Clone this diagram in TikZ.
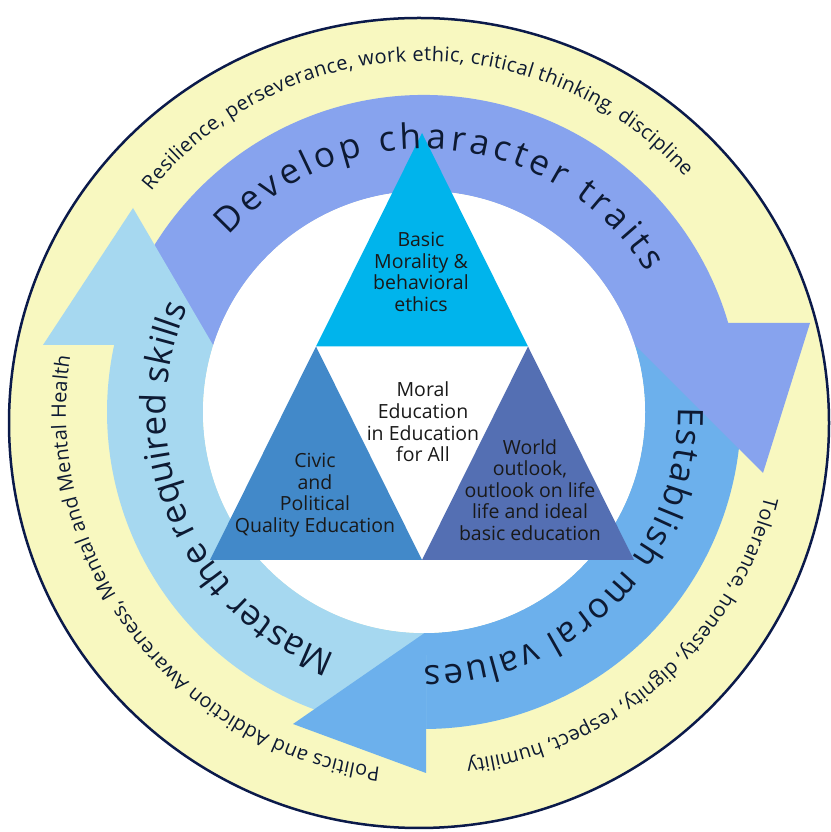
\documentclass[tikz,border=0pt]{standalone}
\usepackage{fontspec}
\setmainfont{Open Sans}
\usetikzlibrary{decorations.text}
\definecolor{ybg}{HTML}{F8F8C0}
\definecolor{navy}{HTML}{0B1A4A}
\definecolor{peri}{HTML}{87A3EE}
\definecolor{midb}{HTML}{6CB0EC}
\definecolor{lblue}{HTML}{A6D8F0}
\definecolor{tcyan}{HTML}{00B4EC}
\definecolor{tsteel}{HTML}{4289C9}
\definecolor{tslate}{HTML}{546FB3}
\definecolor{txt}{HTML}{0D1A33}
\newcommand\ringfont{\fontsize{35}{40}\selectfont}
\newcommand\outfont{\fontsize{20}{24}\selectfont}
\tikzset{
  tritext/.style={align=center, text=black!90, font=\fontsize{19.5}{21.6}\selectfont, inner sep=0pt},
  ringtext/.style={decorate, decoration={text along path, text={|\ringfont|#1}, text color=txt, text align={fit to path}}},
  outtext/.style={decorate, decoration={text along path, text={|\outfont|#1}, text color=txt, text align={fit to path}}}
}
\begin{document}
\begin{tikzpicture}[x=1pt,y=1pt]
\useasboundingbox (0,0) rectangle (830,832);
% outer disc
\draw[navy, line width=2.5pt, fill=ybg] (419,409) ellipse [x radius=410, y radius=405];
\begin{scope}[shift={(424,420)}]
  % arrow bodies
  \fill[peri] (167.8:317) arc[start angle=167.8, end angle=16.3, radius=317]
     -- (23.7:221) arc[start angle=23.7, end angle=162.4, radius=221] -- cycle;
  \fill[midb] (16.3:317) arc[start angle=16.3, end angle=-89.6, radius=317]
     -- (-89.5:221) arc[start angle=-89.5, end angle=23.7, radius=221] -- cycle;
  \fill[lblue] (270.4:317) arc[start angle=270.4, end angle=167.8, radius=317]
     -- (162.4:221) arc[start angle=162.4, end angle=270.5, radius=221] -- cycle;
  % arrow heads
  \fill[peri] (189,89) -- (386,89) -- (339,-61) -- cycle;
  \fill[midb] (2,-220) -- (2,-361) -- (-131,-312) -- cycle;
  \fill[lblue] (-381,67) -- (-211,67) -- (-291,204) -- cycle;
  % inner white disc
  \fill[white] (0,0) circle [radius=221];
  % triangles
  \fill[tcyan] (-2,279) -- (-108,65.5) -- (104,65.5) -- cycle;
  \fill[tsteel] (-108,65.5) -- (-214,-148) -- (-2,-148) -- cycle;
  \fill[tslate] (104,65.5) -- (-2,-148) -- (210,-148) -- cycle;
  % triangle texts
  \node[tritext] (tTop) at (-3,140) {Basic\\Morality \&\\behavioral\\ethics};
  \node[tritext] (tMid) at (-1,-10) {Moral\\Education\\in Education\\for All};
  \node[tritext] (tLeft) at (-109,-83) {Civic\\and\\Political\\Quality Education};
  \node[tritext] (tRight) at (106,-78) {World\\outlook,\\outlook on life\\life and ideal\\basic education};
  % ring texts
  \path[ringtext={Develop character traits}] (138:263) arc[start angle=138, end angle=32, radius=263];
  \path[ringtext={Establish moral values}] (1:254) arc[start angle=1, end angle=-90, radius=254];
  \path[ringtext={Master the required skills}] (250:258) arc[start angle=250, end angle=156, radius=258];
  % outer texts
  \path[outtext={Resilience, perseverance, work ethic, critical thinking, discipline}] (141:351) arc[start angle=141, end angle=42, radius=351];
  \path[outtext={Tolerance, honesty, dignity, respect, humility}] (-14:351) arc[start angle=-14, end angle=-83, radius=351];
  \path[outtext={Politics and Addiction Awareness, Mental and Mental Health}] (263:358) arc[start angle=263, end angle=171, radius=358];
\end{scope}
\end{tikzpicture}
\end{document}
